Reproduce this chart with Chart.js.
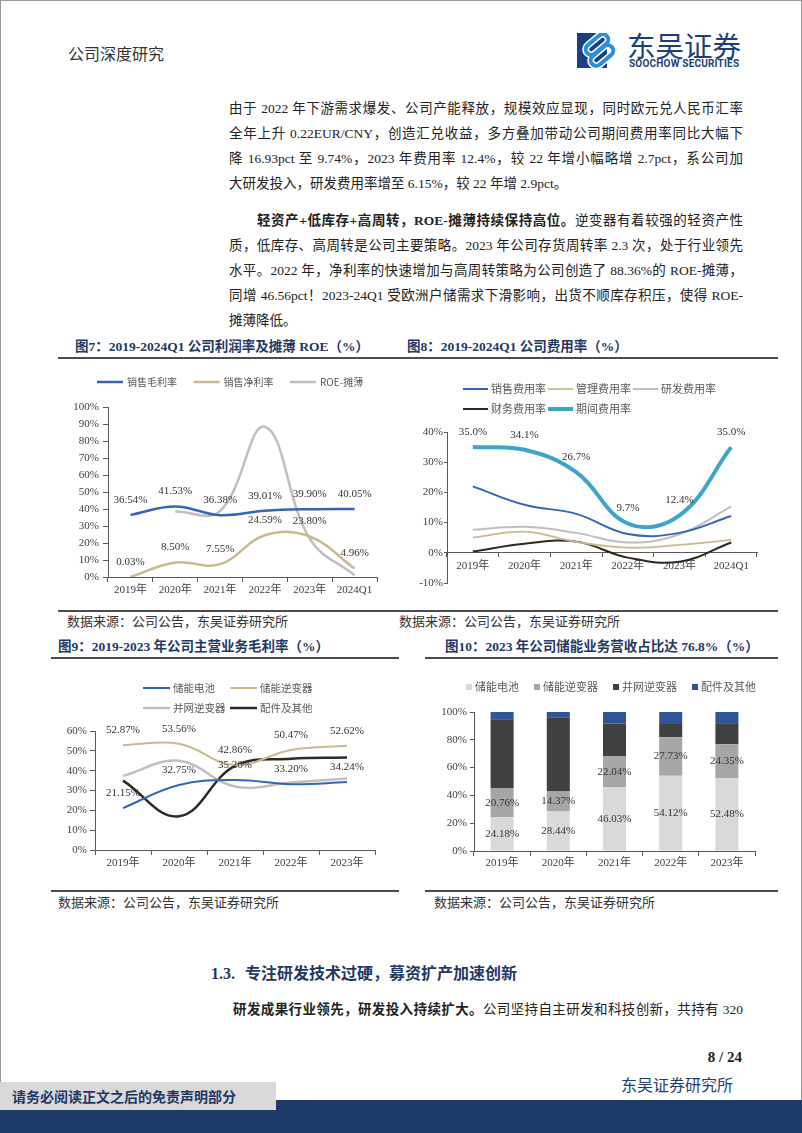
<!DOCTYPE html>
<html lang="zh-CN">
<head>
<meta charset="utf-8">
<title>公司深度研究</title>
<script src="https://cdn.jsdelivr.net/npm/chart.js@4.4.1/dist/chart.umd.min.js"></script>
<style>
  html, body { margin: 0; padding: 0; background: #fff; }
  #page { position: relative; width: 802px; height: 1133px; overflow: hidden; background: #fff;
          font-family: "Liberation Serif", "Noto Sans CJK SC", serif; color: #222; }
  .abs { position: absolute; white-space: nowrap; }
  .ln { position: absolute; left: 229px; width: 514px; height: 25px; line-height: 25px; font-size: 13.5px;
        white-space: nowrap; text-align: justify; text-align-last: justify; }
  .ln.last { text-align-last: left; }
  .figttl { position: absolute; font-size: 13.5px; font-weight: bold; color: #1f3864; line-height: 18px; white-space: nowrap; }
  .src { position: absolute; font-size: 13px; color: #333; line-height: 16px; white-space: nowrap; }
  .rule { position: absolute; height: 2px; background: #4d4d4d; }
  canvas { position: absolute; }
</style>
</head>
<body>
<div id="page">
  <div class="abs" style="left:0;top:0;width:802px;height:1133px;box-sizing:border-box;border:1px solid #9a9a9a;"></div>

  <!-- header -->
  <div class="abs" style="left:68px;top:43px;font-size:16px;line-height:20px;color:#333;font-family:'Noto Sans CJK SC';">公司深度研究</div>
  <svg class="abs" style="left:577px;top:33px" width="44" height="35" viewBox="0 0 44 35">
    <rect x="0" y="0" width="30" height="35" fill="#1c3f7f"/>
    <rect x="7" y="6" width="26" height="11" rx="5.5" transform="rotate(-40 20 11.5)" fill="none" stroke="#fff" stroke-width="7"/>
    <rect x="12" y="17" width="26" height="11" rx="5.5" transform="rotate(-40 25 22.5)" fill="none" stroke="#fff" stroke-width="7"/>
    <rect x="7" y="6" width="26" height="11" rx="5.5" transform="rotate(-40 20 11.5)" fill="none" stroke="#2a90d8" stroke-width="4"/>
    <rect x="12" y="17" width="26" height="11" rx="5.5" transform="rotate(-40 25 22.5)" fill="none" stroke="#2a90d8" stroke-width="4"/>
  </svg>
  <div class="abs" style="left:627px;top:29px;font-size:28.5px;line-height:32px;color:#1c3f7f;font-family:'Noto Sans CJK SC';">东吴证券</div>
  <div class="abs" style="left:629px;top:58px;font-size:10px;line-height:12px;color:#1c3f7f;font-family:Roboto;font-weight:bold;letter-spacing:0.2px;">SOOCHOW SECURITIES</div>

  <!-- paragraph 1 -->
  <div class="ln" style="top:95.5px">由于 2022 年下游需求爆发、公司产能释放，规模效应显现，同时欧元兑人民币汇率</div>
  <div class="ln" style="top:120.5px">全年上升 0.22EUR/CNY，创造汇兑收益，多方叠加带动公司期间费用率同比大幅下</div>
  <div class="ln" style="top:146px">降 16.93pct 至 9.74%，2023 年费用率 12.4%，较 22 年增小幅略增 2.7pct，系公司加</div>
  <div class="ln last" style="top:170.5px">大研发投入，研发费用率增至 6.15%，较 22 年增 2.9pct。</div>

  <!-- paragraph 2 -->
  <div class="ln" style="top:207.5px;left:257px;width:486px;"><b>轻资产+低库存+高周转，ROE-摊薄持续保持高位。</b>逆变器有着较强的轻资产性</div>
  <div class="ln" style="top:232.5px">质，低库存、高周转是公司主要策略。2023 年公司存货周转率 2.3 次，处于行业领先</div>
  <div class="ln" style="top:257.5px">水平。2022 年，净利率的快速增加与高周转策略为公司创造了 88.36%的 ROE-摊薄，</div>
  <div class="ln" style="top:282.5px">同增 46.56pct！2023-24Q1 受欧洲户储需求下滑影响，出货不顺库存积压，使得 ROE-</div>
  <div class="ln last" style="top:307.5px">摊薄降低。</div>

  <!-- figure 7 / 8 -->
  <div class="figttl" style="left:75px;top:338px">图7：2019-2024Q1 公司利润率及摊薄 ROE（%）</div>
  <div class="figttl" style="left:407px;top:338px">图8：2019-2024Q1 公司费用率（%）</div>
  <div class="rule" style="left:58px;top:357px;width:720px"></div>
  <canvas id="fig7" width="340" height="238" style="left:60px;top:362px"></canvas>
  <canvas id="fig8" width="400" height="238" style="left:400px;top:372px"></canvas>
  <div class="rule" style="left:58px;top:610px;width:720px"></div>
  <div class="src" style="left:67px;top:614px">数据来源：公司公告，东吴证券研究所</div>
  <div class="src" style="left:399px;top:614px">数据来源：公司公告，东吴证券研究所</div>

  <!-- figure 9 / 10 -->
  <div class="figttl" style="left:58px;top:638px">图9：2019-2023 年公司主营业务毛利率（%）</div>
  <div class="figttl" style="left:445px;top:638px">图10：2023 年公司储能业务营收占比达 76.8%（%）</div>
  <div class="rule" style="left:51px;top:657px;width:348px"></div>
  <div class="rule" style="left:425px;top:657px;width:353px"></div>
  <canvas id="fig9" width="340" height="230" style="left:60px;top:662px"></canvas>
  <canvas id="fig10" width="380" height="230" style="left:420px;top:662px"></canvas>
  <div class="rule" style="left:51px;top:890px;width:348px"></div>
  <div class="rule" style="left:425px;top:890px;width:353px"></div>
  <div class="src" style="left:58px;top:895px">数据来源：公司公告，东吴证券研究所</div>
  <div class="src" style="left:434px;top:895px">数据来源：公司公告，东吴证券研究所</div>

  <!-- section 1.3 -->
  <div class="abs" style="left:211px;top:964px;font-size:16px;line-height:20px;font-weight:bold;color:#1f3864;">1.3.<span style="margin-left:10px">专注研发技术过硬，募资扩产加速创新</span></div>
  <div class="ln" style="top:996.5px;left:233px;width:510px;"><b>研发成果行业领先，研发投入持续扩大。</b>公司坚持自主研发和科技创新，共持有 320</div>

  <!-- footer -->
  <div class="abs" style="right:60px;top:1047px;font-size:15px;line-height:20px;font-weight:bold;color:#222;">8 / 24</div>
  <div class="abs" style="left:621px;top:1074px;font-size:16px;line-height:20px;color:#1f3d73;font-family:'Noto Sans CJK SC';">东吴证券研究所</div>
  <div class="abs" style="left:0;top:1100px;width:802px;height:33px;background:#1e3a68;"></div>
  <div class="abs" style="left:0;top:1082px;width:276px;height:28px;background:#d9d9d9;"></div>
  <div class="abs" style="left:12px;top:1082px;font-size:14px;line-height:28px;font-weight:bold;color:#1f3864;font-family:'Noto Sans CJK SC';">请务必阅读正文之后的免责声明部分</div>
</div>

<script>
// ---- chart data ----
const fig7Years = ['2019年', '2020年', '2021年', '2022年', '2023年', '2024Q1'];
const grossMargin = [36.54, 41.53, 36.38, 39.01, 39.90, 40.05];
const netMargin = [0.03, 8.50, 7.55, 24.59, 23.80, 4.96];
const roeDiluted = [null, 38.5, 38.8, 88.36, 22.5, 1.0];

const fig8Years = ['2019年', '2020年', '2021年', '2022年', '2023年', '2024Q1'];
const sellingRate = [22.0, 15.9, 12.9, 6.2, 6.6, 12.2];
const adminRate = [5.0, 7.0, 3.6, 1.7, 2.6, 4.3];
const rdRate = [7.6, 8.6, 6.6, 3.4, 6.15, 15.3];
const financeRate = [0.4, 3.0, 3.7, -1.6, -2.95, 3.4];
const periodRate = [35.0, 34.1, 26.7, 9.7, 12.4, 35.0];

const fig9Years = ['2019年', '2020年', '2021年', '2022年', '2023年'];
const batteryGm = [21.15, 32.75, 35.26, 33.20, 34.24];
const storageInvGm = [52.87, 53.56, 42.86, 50.47, 52.62];
const gridInvGm = [37.4, 45.0, 32.0, 34.0, 36.0];
const otherGm = [35.0, 17.0, 42.4, 46.0, 46.6];

const fig10Years = ['2019年', '2020年', '2021年', '2022年', '2023年'];
const batteryShare = [24.18, 28.44, 46.03, 54.12, 52.48];
const storageInvShare = [20.76, 14.37, 22.04, 27.73, 24.35];
const gridInvShare = [49.8, 53.4, 23.7, 9.5, 14.6];
const otherShare = [5.26, 3.79, 8.23, 8.65, 8.57];

// ---- styles ----
const SERIF = '"Liberation Serif", "Noto Sans CJK SC", serif';
const BLUE = '#3566b5';
const TAN = '#c9b98d';
const GRAY = '#bfbfbf';
const BLACK = '#2a2a1e';
const TEAL = '#3ea5c9';
const AXIS = '#595959';
const TICK = '#404040';

Chart.defaults.font.family = SERIF;
Chart.defaults.animation = false;

// value labels above points / centred in bar segments
const valueLabels = {
    id: 'valueLabels',
    afterDatasetsDraw(chart) {
        const ctx = chart.ctx;
        ctx.save();
        ctx.font = '11px ' + SERIF;
        ctx.fillStyle = '#333';
        ctx.textAlign = 'center';
        ctx.textBaseline = 'middle';
        chart.data.datasets.forEach((ds, i) => {
            if (!ds.showLabels) return;
            const meta = chart.getDatasetMeta(i);
            meta.data.forEach((el, j) => {
                const v = ds.data[j];
                if (v === null || v === undefined) return;
                let x = el.x, y = el.y - 15;
                if (meta.type === 'bar') {
                    const c = el.getCenterPoint();
                    x = c.x; y = c.y;
                }
                ctx.fillText(v.toFixed(ds.decimals) + '%', x, y);
            });
        });
        ctx.restore();
    }
};

// legend laid out in fixed columns like the original office charts
const gridLegend = {
    id: 'gridLegend',
    afterDraw(chart, args, opts) {
        const ctx = chart.ctx;
        ctx.save();
        ctx.font = opts.textFont;
        ctx.textBaseline = 'middle';
        ctx.textAlign = 'left';
        let flowX = opts.x;
        chart.data.datasets.forEach((ds, i) => {
            let x, y;
            if (opts.flow) {
                x = flowX; y = opts.y;
            } else {
                x = opts.x + (i % opts.cols) * opts.colW;
                y = opts.y + Math.floor(i / opts.cols) * opts.rowH;
            }
            let textX;
            if (opts.box) {
                ctx.fillStyle = ds.backgroundColor;
                ctx.fillRect(x, y - opts.box / 2, opts.box, opts.box);
                textX = x + opts.box + opts.gap;
            } else {
                ctx.strokeStyle = ds.borderColor;
                ctx.lineWidth = ds.borderWidth;
                ctx.lineCap = 'butt';
                ctx.beginPath();
                ctx.moveTo(x, y);
                ctx.lineTo(x + opts.sampleW, y);
                ctx.stroke();
                textX = x + opts.sampleW + opts.gap;
            }
            ctx.fillStyle = '#595959';
            ctx.fillText(ds.label, textX, y);
            flowX = textX + ctx.measureText(ds.label).width + (opts.itemGap || 0);
        });
        ctx.restore();
    }
};

function xAxis(height, tickPad) {
    return {
        offset: true,
        grid: { offset: true, drawOnChartArea: false, tickLength: 5, color: AXIS },
        border: { color: AXIS },
        ticks: { color: TICK, font: { size: 11 }, padding: tickPad, maxRotation: 0 },
        afterFit: (s) => { s.height = height; }
    };
}

function yAxis(width, min, max, step, tickLen, tickPad) {
    return {
        min: min,
        max: max,
        grid: { drawOnChartArea: false, tickLength: tickLen, color: AXIS },
        border: { color: AXIS },
        ticks: { stepSize: step, color: TICK, font: { size: 11 }, padding: tickPad, callback: (v) => v + '%' },
        afterFit: (s) => { s.width = width; }
    };
}

function lineSet(label, data, color, width, extra) {
    return Object.assign({
        label: label,
        data: data,
        borderColor: color,
        backgroundColor: color,
        borderWidth: width,
        pointRadius: 0,
        tension: 0.4,
        fill: false
    }, extra || {});
}

const baseOptions = {
    responsive: false,
    animation: false,
    events: []
};

// 图7
new Chart(document.getElementById('fig7'), {
    type: 'line',
    data: {
        labels: fig7Years,
        datasets: [
            lineSet('销售毛利率', grossMargin, BLUE, 2.5, { showLabels: true, decimals: 2 }),
            lineSet('销售净利率', netMargin, TAN, 2.5, { showLabels: true, decimals: 2 }),
            lineSet('ROE-摊薄', roeDiluted, GRAY, 2.5)
        ]
    },
    options: Object.assign({}, baseOptions, {
        layout: { padding: { top: 45, right: 23, bottom: 0, left: 0 } },
        scales: {
            x: xAxis(23, 2),
            y: yAxis(48, 0, 100, 10, 5, 4)
        },
        plugins: {
            legend: { display: false },
            tooltip: { enabled: false },
            gridLegend: { x: 37, y: 20, cols: 3, colW: 96.5, rowH: 20, sampleW: 26, gap: 4, textFont: '10px "Noto Sans CJK SC"' }
        }
    }),
    plugins: [valueLabels, gridLegend]
});

// 图8
new Chart(document.getElementById('fig8'), {
    type: 'line',
    data: {
        labels: fig8Years,
        datasets: [
            lineSet('销售费用率', sellingRate, BLUE, 2, { order: 1 }),
            lineSet('管理费用率', adminRate, TAN, 1.8, { order: 1 }),
            lineSet('研发费用率', rdRate, GRAY, 2, { order: 1 }),
            lineSet('财务费用率', financeRate, BLACK, 2, { order: 1 }),
            lineSet('期间费用率', periodRate, TEAL, 4, { order: 0, showLabels: true, decimals: 1 })
        ]
    },
    options: Object.assign({}, baseOptions, {
        layout: { padding: { top: 60, right: 43, bottom: 27, left: 0 } },
        scales: {
            x: Object.assign(xAxis(0, 3), {
                position: { y: 0 },
                grid: { offset: true, drawOnChartArea: false, tickLength: 4, color: AXIS }
            }),
            y: yAxis(47, -10, 40, 5, 3, 1)
        },
        plugins: {
            legend: { display: false },
            tooltip: { enabled: false },
            gridLegend: { x: 63, y: 17, cols: 3, colW: 85, rowH: 20, sampleW: 25, gap: 3, textFont: '11px "Noto Sans CJK SC"' }
        }
    }),
    plugins: [valueLabels, gridLegend]
});

// 图9
new Chart(document.getElementById('fig9'), {
    type: 'line',
    data: {
        labels: fig9Years,
        datasets: [
            lineSet('储能电池', batteryGm, BLUE, 2, { showLabels: true, decimals: 2 }),
            lineSet('储能逆变器', storageInvGm, TAN, 2, { showLabels: true, decimals: 2 }),
            lineSet('并网逆变器', gridInvGm, GRAY, 2.5),
            lineSet('配件及其他', otherGm, BLACK, 2.5)
        ]
    },
    options: Object.assign({}, baseOptions, {
        layout: { padding: { top: 69, right: 25, bottom: 18, left: 0 } },
        scales: {
            x: xAxis(24, 2),
            y: yAxis(35, 0, 60, 10, 5, 3)
        },
        plugins: {
            legend: { display: false },
            tooltip: { enabled: false },
            gridLegend: { x: 83, y: 26, cols: 2, colW: 87, rowH: 20, sampleW: 27, gap: 3, textFont: '10.5px "Noto Sans CJK SC"' }
        }
    }),
    plugins: [valueLabels, gridLegend]
});

// 图10
function barSet(label, data, color, extra) {
    return Object.assign({
        label: label,
        data: data,
        backgroundColor: color,
        borderWidth: 0,
        barPercentage: 0.41,
        categoryPercentage: 1
    }, extra || {});
}

new Chart(document.getElementById('fig10'), {
    type: 'bar',
    data: {
        labels: fig10Years,
        datasets: [
            barSet('储能电池', batteryShare, '#d9d9d9', { showLabels: true, decimals: 2 }),
            barSet('储能逆变器', storageInvShare, '#a6a6a6', { showLabels: true, decimals: 2 }),
            barSet('并网逆变器', gridInvShare, '#404040'),
            barSet('配件及其他', otherShare, '#2f5597')
        ]
    },
    options: Object.assign({}, baseOptions, {
        layout: { padding: { top: 50, right: 45, bottom: 17, left: 0 } },
        scales: {
            x: Object.assign(xAxis(24, 1), { stacked: true }),
            y: Object.assign(yAxis(54, 0, 100, 10, 4, 3), { stacked: true })
        },
        plugins: {
            legend: { display: false },
            tooltip: { enabled: false },
            gridLegend: { x: 46, y: 25, flow: true, box: 6, gap: 3, itemGap: 15, textFont: '11px "Noto Sans CJK SC"' }
        }
    }),
    plugins: [valueLabels, gridLegend]
});
</script>
</body>
</html>
